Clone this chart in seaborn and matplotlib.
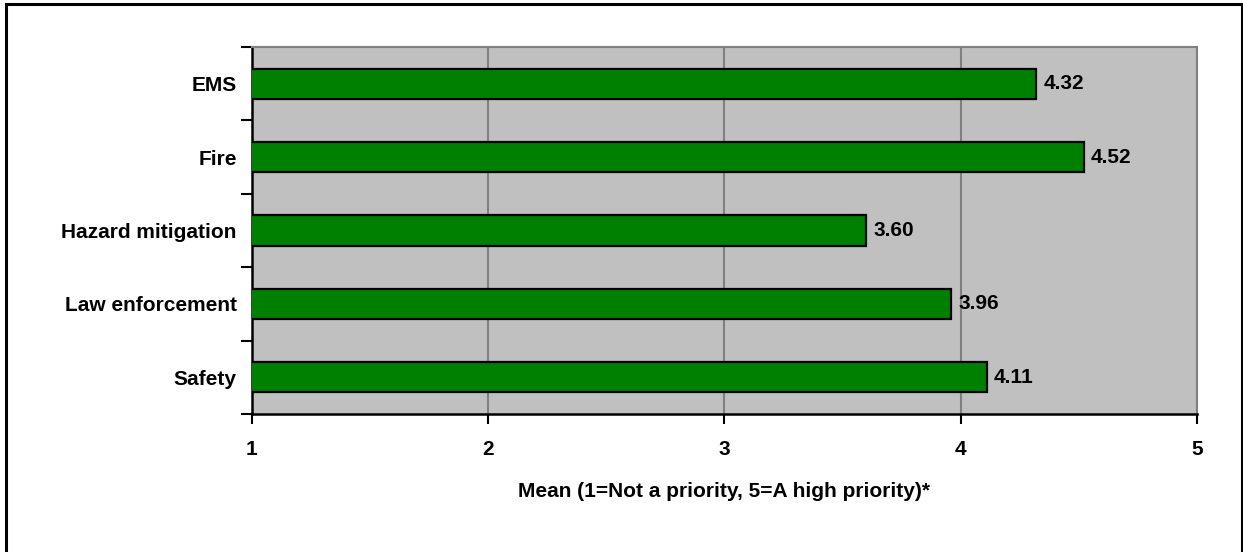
import matplotlib
matplotlib.use("Agg")
import matplotlib.pyplot as plt
import seaborn as sns
from matplotlib.patches import Rectangle

categories = ["EMS", "Fire", "Hazard mitigation", "Law enforcement", "Safety"]
means = [4.32, 4.52, 3.60, 3.96, 4.11]
xticks = [1, 2, 3, 4, 5]
xlabel = "Mean (1=Not a priority, 5=A high priority)*"

sns.set_style("white")
plt.rcParams["font.family"] = ["Liberation Sans", "DejaVu Sans"]
plt.rcParams["font.weight"] = "bold"
plt.rcParams["text.color"] = "black"
plt.rcParams["xtick.color"] = "black"
plt.rcParams["ytick.color"] = "black"
plt.rcParams["axes.labelcolor"] = "black"

fs = 15

fig = plt.figure(figsize=(12.43, 5.52), dpi=100)
ax = fig.add_axes([0.2027, 0.25, 0.7603, 0.665])
ax.set_facecolor("#C0C0C0")

sns.barplot(x=means, y=categories, orient="h", color="#008000", saturation=1,
            edgecolor="black", linewidth=1.6, width=0.41, ax=ax, zorder=3)

ax.set_xlim(1, 5)
ax.set_ylim(4.5, -0.5)
ax.set_xticks(xticks)
ax.set_xticklabels([str(t) for t in xticks], fontsize=fs, fontweight="bold")
ax.tick_params(axis="x", bottom=True, length=7, width=1.5, color="black",
               direction="out", pad=12)
ax.grid(axis="x", color="#808080", linewidth=1.5, zorder=0)
ax.set_axisbelow(True)

# category ticks sit between bars
ax.set_yticks([i - 0.5 for i in range(len(categories) + 1)], minor=True)
ax.tick_params(axis="y", which="minor", left=True, length=8, width=1.5,
               color="black", direction="out")
ax.tick_params(axis="y", which="major", left=False, length=0, pad=11)
ax.set_yticklabels(categories, fontsize=fs, fontweight="bold")

ax.set_xlabel(xlabel, fontsize=fs, fontweight="bold", labelpad=16)
ax.set_ylabel("")

for s in ["left", "bottom"]:
    ax.spines[s].set_color("black")
    ax.spines[s].set_linewidth(1.8)
for s in ["top", "right"]:
    ax.spines[s].set_color("#808080")
    ax.spines[s].set_linewidth(1.5)

for i, v in enumerate(means):
    ax.text(v + 0.03, i, f"{v:.2f}", va="center", ha="left",
            fontsize=fs, fontweight="bold", color="black", zorder=4)

fig.patches.append(Rectangle((0.0045, -0.1), 0.9945, 1.0928, transform=fig.transFigure,
                             fill=False, edgecolor="black", linewidth=2.2))

fig.savefig("out.png", dpi=100)
